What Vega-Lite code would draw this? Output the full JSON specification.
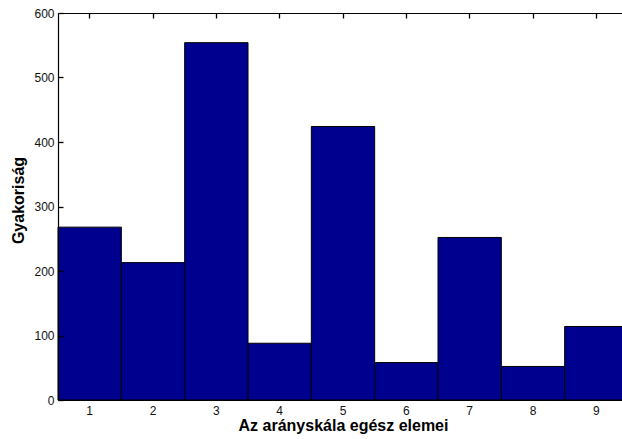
{
  "$schema": "https://vega.github.io/schema/vega-lite/v6.json",
  "autosize": {"type": "none"},
  "padding": {"left": 58, "top": 13, "right": 0, "bottom": 39},
  "width": 564,
  "height": 387,
  "background": "white",
  "config": {
    "view": {"stroke": null},
    "font": "Liberation Sans",
    "axis": {
      "labelFont": "Liberation Sans",
      "labelFontSize": 12,
      "labelColor": "#111111",
      "domainColor": "#000000",
      "domainWidth": 1.2,
      "tickColor": "#000000",
      "grid": false,
      "titleFont": "Liberation Sans",
      "titleFontSize": 16,
      "titleFontWeight": "bold",
      "titleColor": "#000000"
    }
  },
  "data": {
    "values": [
      {"elem": "1", "gyakorisag": 268},
      {"elem": "2", "gyakorisag": 213},
      {"elem": "3", "gyakorisag": 554},
      {"elem": "4", "gyakorisag": 88},
      {"elem": "5", "gyakorisag": 424},
      {"elem": "6", "gyakorisag": 58},
      {"elem": "7", "gyakorisag": 252},
      {"elem": "8", "gyakorisag": 52},
      {"elem": "9", "gyakorisag": 114}
    ]
  },
  "layer": [
    {
      "mark": {"type": "bar", "color": "#00008F", "stroke": "#000000", "strokeWidth": 1},
      "encoding": {
        "x": {
          "field": "elem",
          "type": "ordinal",
          "sort": null,
          "scale": {"range": [0, 570], "paddingInner": 0, "paddingOuter": 0},
          "axis": {
            "orient": "bottom",
            "title": "Az arányskála egész elemei",
            "labelAngle": 0,
            "ticks": false,
            "labelPadding": 5,
            "titlePadding": 1,
            "zindex": 2
          }
        },
        "y": {
          "field": "gyakorisag",
          "type": "quantitative",
          "scale": {"domain": [0, 600], "nice": false},
          "axis": {
            "orient": "left",
            "title": "Gyakoriság",
            "values": [0, 100, 200, 300, 400, 500, 600],
            "ticks": false,
            "labelPadding": 4,
            "titlePadding": 7,
            "titleY": 187,
            "zindex": 2
          }
        }
      }
    },
    {
      "mark": {"type": "bar", "opacity": 0},
      "encoding": {
        "x": {
          "field": "elem",
          "type": "ordinal",
          "sort": null,
          "axis": {
            "orient": "bottom",
            "offset": -387,
            "title": null,
            "labels": false,
            "domain": true,
            "ticks": true,
            "tickSize": 5,
            "tickWidth": 1.3,
            "zindex": 2
          }
        },
        "y": {
          "field": "gyakorisag",
          "type": "quantitative",
          "axis": {
            "orient": "right",
            "offset": -564,
            "title": null,
            "labels": false,
            "domain": false,
            "ticks": true,
            "values": [0, 100, 200, 300, 400, 500, 600],
            "tickSize": 5,
            "tickWidth": 1.3,
            "zindex": 2
          }
        }
      }
    }
  ],
  "resolve": {"axis": {"x": "independent", "y": "independent"}}
}
